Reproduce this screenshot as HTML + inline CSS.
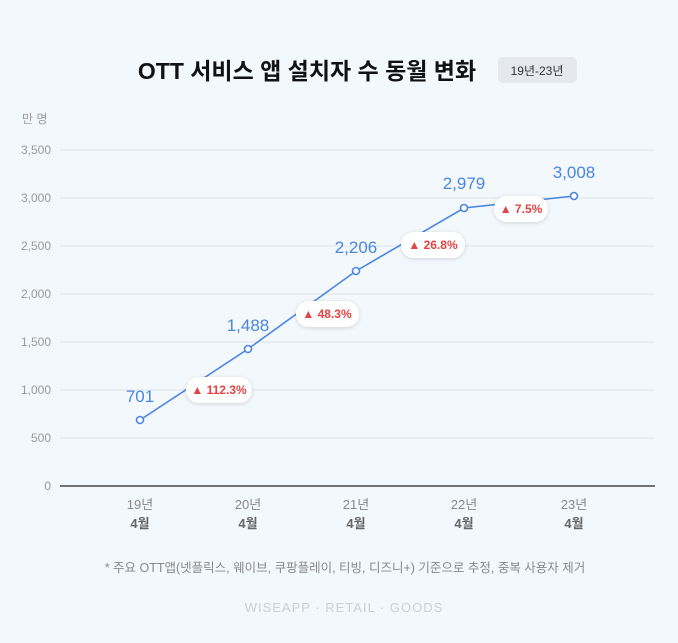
<!DOCTYPE html>
<html><head><meta charset="utf-8"><style>
body{margin:0;width:678px;height:638px;background:#f3f8fc;font-family:"Liberation Sans","Noto Sans CJK KR",sans-serif;overflow:hidden}
</style></head><body>
<svg width="678" height="638" xmlns="http://www.w3.org/2000/svg" style="font-family:'Liberation Sans','Noto Sans CJK KR',sans-serif">
<defs><filter id="sh" x="-30%" y="-50%" width="160%" height="200%"><feDropShadow dx="0" dy="1" stdDeviation="2" flood-color="#000" flood-opacity="0.15"/></filter></defs>
<text x="307" y="79" text-anchor="middle" font-size="23" font-weight="bold" fill="#111">OTT 서비스 앱 설치자 수 동월 변화</text>
<rect x="498" y="57" width="79" height="26" rx="5" fill="#e5e9ee"/>
<text x="537" y="75" text-anchor="middle" font-size="12" fill="#333">19년-23년</text>
<text x="22" y="123" font-size="12" fill="#999">만 명</text>
<g stroke="#dde3ea" stroke-width="1">
<line x1="60" y1="150" x2="655" y2="150"/><line x1="60" y1="198" x2="655" y2="198"/><line x1="60" y1="246" x2="655" y2="246"/><line x1="60" y1="294" x2="655" y2="294"/><line x1="60" y1="342" x2="655" y2="342"/><line x1="60" y1="390" x2="655" y2="390"/><line x1="60" y1="438" x2="655" y2="438"/>
</g>
<line x1="60" y1="486" x2="655" y2="486" stroke="#444" stroke-width="1.5"/>
<g font-size="12" fill="#999" text-anchor="end">
<text x="51" y="154">3,500</text><text x="51" y="202">3,000</text><text x="51" y="250">2,500</text><text x="51" y="298">2,000</text><text x="51" y="346">1,500</text><text x="51" y="394">1,000</text><text x="51" y="442">500</text><text x="51" y="490">0</text>
</g>
<polyline points="140,420 248,349 356,271 464,208 574,196" fill="none" stroke="#4a86e0" stroke-width="1.6"/>
<g fill="#fff" stroke="#4a86e0" stroke-width="1.6">
<circle cx="140" cy="420" r="3.5"/><circle cx="248" cy="349" r="3.5"/><circle cx="356" cy="271" r="3.5"/><circle cx="464" cy="208" r="3.5"/><circle cx="574" cy="196" r="3.5"/>
</g>
<g font-size="17" fill="#4a86e0" text-anchor="middle">
<text x="140" y="402">701</text><text x="248" y="331">1,488</text><text x="356" y="253">2,206</text><text x="464" y="189">2,979</text><text x="574" y="178">3,008</text>
</g>
<g filter="url(#sh)" fill="#fff">
<rect x="186" y="377" width="66" height="26" rx="13"/><rect x="296" y="301" width="63" height="26" rx="13"/><rect x="401" y="232" width="64" height="26" rx="13"/><rect x="494" y="196" width="54" height="26" rx="13"/>
</g>
<g font-size="12" font-weight="bold" fill="#e04444" text-anchor="middle">
<text x="219" y="394">▲ 112.3%</text><text x="327" y="318">▲ 48.3%</text><text x="433" y="249">▲ 26.8%</text><text x="521" y="213">▲ 7.5%</text>
</g>
<g font-size="13" fill="#888" text-anchor="middle">
<text x="140" y="509">19년</text><text x="248" y="509">20년</text><text x="356" y="509">21년</text><text x="464" y="509">22년</text><text x="574" y="509">23년</text>
</g>
<g font-size="13" fill="#666" font-weight="bold" text-anchor="middle">
<text x="140" y="528">4월</text><text x="248" y="528">4월</text><text x="356" y="528">4월</text><text x="464" y="528">4월</text><text x="574" y="528">4월</text>
</g>
<text x="345" y="572" text-anchor="middle" font-size="12.5" fill="#888">* 주요 OTT앱(넷플릭스, 웨이브, 쿠팡플레이, 티빙, 디즈니+) 기준으로 추정, 중복 사용자 제거</text>
<text x="344" y="612" text-anchor="middle" font-size="13" fill="#c9d0d8" letter-spacing="1">WISEAPP · RETAIL · GOODS</text>
</svg>
</body></html>
